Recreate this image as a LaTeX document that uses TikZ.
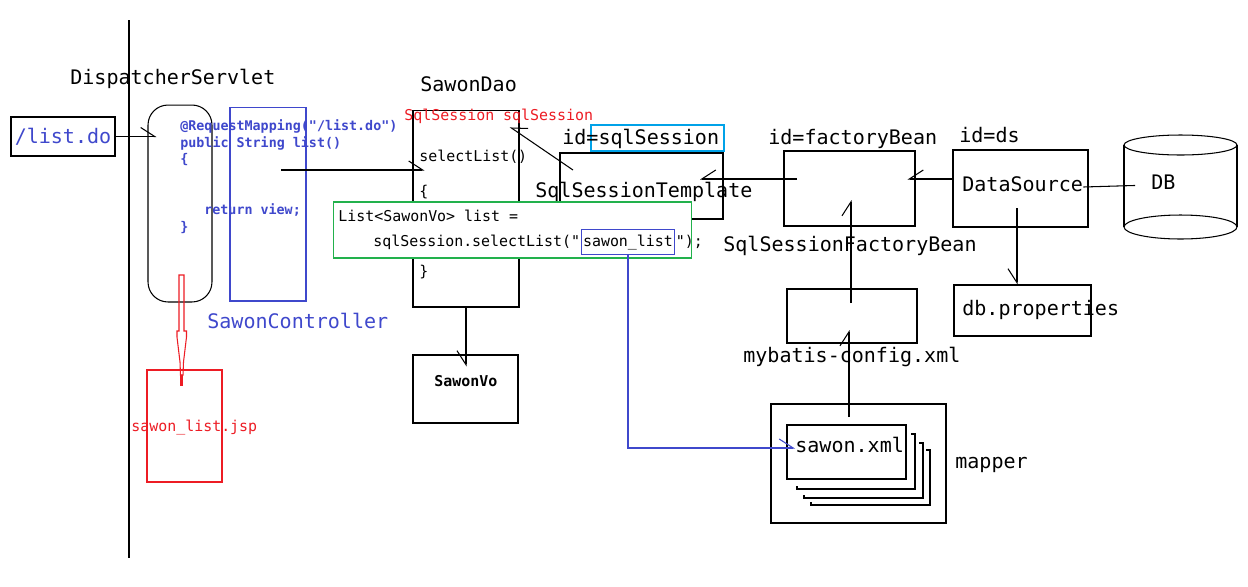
\documentclass[tikz,border=0pt]{standalone}
\usepackage{fontspec}
\usepackage{tikz}
\usetikzlibrary{arrows.meta, positioning}
\definecolor{pblue}{RGB}{63, 72, 204}
\definecolor{pred}{RGB}{237, 28, 36}
\definecolor{pgreen}{RGB}{34, 177, 76}
\definecolor{pcyan}{RGB}{0, 162, 232}
\newfontfamily\gulim{DejaVu Sans Mono}
\newcommand\bigtt{\gulim\fontsize{11.4pt}{13pt}\selectfont}
\newcommand\smtt{\gulim\fontsize{8.5pt}{10pt}\selectfont}
\newcommand\codett{\gulim\bfseries\fontsize{7.6pt}{9pt}\selectfont}
\tikzset{
  box/.style={draw, line width=0.6pt, inner sep=0pt},
  lbl/.style={anchor=west, inner sep=0pt, font=\bigtt, text height=0.75em, text depth=0.2em},
  sm/.style={lbl, font=\smtt},
  code/.style={lbl, font=\codett, text=pblue},
  hl/.style={line width=0.6pt, -{Straight Barb[left, length=0.28cm, width=0.36cm]}},
  hr/.style={line width=0.6pt, -{Straight Barb[right, length=0.28cm, width=0.36cm]}}
}

\begin{document}
\begin{tikzpicture}[x=0.02cm, y=-0.02cm]
  \fill[white] (0,0) rectangle (1248,586);
  \useasboundingbox (0,0) rectangle (1248,586);
  \draw[line width=0.6pt] (129,20) -- (129,558);

  % Front: request, servlet, controller, view
  \node[lbl] (dsvname) at (70,80) {DispatcherServlet};
  \node[box, minimum width=2.08cm, minimum height=0.78cm, font=\bigtt, text=pblue] (listdo) at (63,136.5) {/list.do};
  \node[box, rounded corners=0.4cm, minimum width=1.28cm, minimum height=3.94cm] (servlet) at (180,203.5) {};
  \node[box, draw=pblue, minimum width=1.52cm, minimum height=3.88cm] (ctrl) at (268,204) {};
  \node[code] (cl1) at (180,126) {@RequestMapping("/list.do")};
  \node[code] (cl2) at (180,143) {public String list()};
  \node[code] (cl3) at (180,159) {\{};
  \node[code] (cl4) at (204,210) {return view;};
  \node[code] (cl5) at (180,227) {\}};
  \node[lbl, text=pblue] (ctrlname) at (207,324) {SawonController};
  \node[box, draw=pred, minimum width=1.5cm, minimum height=2.24cm] (jsp) at (184.5,426) {};
  \node[sm, text=pred] (jspname) at (131,427) {sawon\_list.jsp};

  % Dao and Vo
  \node[lbl] (daoname) at (420,87) {SawonDao};
  \node[box, minimum width=2.12cm, minimum height=3.94cm] (dao) at (466,208.5) {};
  \node[sm, text=pred] (sessfield) at (404,116) {SqlSession sqlSession};
  \node[sm] (dl1) at (419,157) {selectList()};
  \node[sm] (dl2) at (419,192) {\{};
  \node[sm] (dl3) at (419,272) {\}};
  \node[box, minimum width=2.1cm, minimum height=1.36cm] (vo) at (465.5,389) {};
  \node[sm, font=\smtt\bfseries] (voname) at (434,382) {SawonVo};

  % SqlSessionTemplate
  \node[box, minimum width=3.26cm, minimum height=1.32cm] (tmpl) at (641.5,186) {};
  \node[box, draw=pcyan, minimum width=2.66cm, minimum height=0.52cm] (sessid) at (657.5,138) {};
  \node[lbl] (tmplid) at (562,140) {id=sqlSession};
  \node[lbl] (tmplname) at (535,193) {SqlSessionTemplate};

  % query in the dao
  \node[box, draw=pgreen, fill=white, minimum width=7.18cm, minimum height=1.12cm] (query) at (512.5,230) {};
  \node[sm] (ql1) at (338,217) {List<SawonVo> list =};
  \node[sm] (ql2) at (373,242) {sqlSession.selectList("};
  \node[sm, draw=pblue, line width=0.6pt, inner xsep=0.04cm, minimum height=0.5cm, right=0pt of ql2] (slist) {sawon\_list};
  \node[sm, right=0pt of slist] (ql3) {");};

  % factory bean and data source
  \node[lbl] (fbid) at (768,140) {id=factoryBean};
  \node[box, minimum width=2.62cm, minimum height=1.5cm] (factory) at (849.5,188.5) {};
  \node[lbl] (fbname) at (723,247) {SqlSessionFactoryBean};
  \node[lbl] (dsid) at (959,138) {id=ds};
  \node[box, minimum width=2.7cm, minimum height=1.54cm] (ds) at (1020.5,188.5) {};
  \node[lbl] (dsname) at (962,187) {DataSource};
  \node[box, minimum width=2.74cm, minimum height=1.02cm] (dbprop) at (1022.5,310.5) {};
  \node[lbl] (dbpropname) at (962,311) {db.properties};

  % DB
  \draw[line width=0.6pt] (1124,145) -- (1124,227) (1237,145) -- (1237,227);
  \draw[line width=0.6pt] (1180.5,145) ellipse [x radius=1.13cm, y radius=0.2cm];
  \draw[line width=0.6pt] (1180.5,227) ellipse [x radius=1.13cm, y radius=0.24cm];
  \node[lbl] (dbname) at (1151,185) {DB};

  % mybatis config and mapper
  \node[box, minimum width=2.6cm, minimum height=1.08cm] (mybatis) at (852,316) {};
  \node[lbl] (mbname) at (743,358) {mybatis-config.xml};
  \node[box, minimum width=3.5cm, minimum height=2.38cm] (mapper) at (858.5,463.5) {};
  \node[lbl] (mappername) at (955,464) {mapper};
  \foreach \r/\t/\b/\l in {915/434/489/797, 923/443/498/804, 930/450/505/811}
    \draw[line width=0.6pt] (\r-4,\t) -- (\r,\t) -- (\r,\b) -- (\l,\b) -- (\l,\b-3);
  \node[box, minimum width=2.38cm, minimum height=1.08cm] (sxml) at (846.5,452) {};
  \node[lbl] (sxmlname) at (795,448) {sawon.xml};

  % connectors
  \coordinate (ctrlout) at (281,170);
  \coordinate (tmplin) at (573,170);
  \coordinate (sessin) at (510,127);
  \coordinate (fbleft) at (797,179);
  \coordinate (tmplright) at (700,179);
  \coordinate (dsout) at (1017,208);
  \coordinate (mbup) at (851,303);
  \coordinate (fbin) at (851,200);
  \coordinate (mapout) at (849,417);
  \coordinate (mbin) at (849,330);
  \coordinate (jspfrom) at (181.5,275);
  \draw[hl, shorten >=-0.18cm] (listdo) -- (listdo -| servlet.west);
  \draw[hl, shorten >=-0.24cm] (ctrlout) -- (ctrlout -| dao.west);
  \draw[hr, shorten >=-0.24cm] (dao.south) -- (dao.south |- vo.north);
  \draw[hr] (tmplin) -- (sessin);
  \draw[hr] (fbleft) -- (tmplright);
  \draw[hr, shorten >=-0.16cm] (ds.west |- fbleft) -- (fbleft -| factory.east);
  \draw[line width=0.6pt, shorten >=0.32cm] (dsname.east) -- (dbname.west);
  \draw[hr] (dsout) -- (dsout |- dbprop.north);
  \draw[hl] (mbup) -- (fbin);
  \draw[hl] (mapout) -- (mbin);
  \draw[hl, pblue] (slist.south) |- (sxmlname.west);
  \draw[pred, line width=0.6pt] (jspfrom) ++(-2.5,0) -- ++(5,0) -- ++(0,56) -- ++(2.5,0) -- ++(0,6)
    -- ++(-3,25) -- ++(-0.5,13) -- ++(-2.5,0) -- ++(-0.5,-13) -- ++(-3,-25) -- ++(0,-6) -- ++(2,0) -- cycle;
  \draw[pred, line width=1.2pt] (jspfrom) ++(0,100) -- ++(0,11);
\end{tikzpicture}
\end{document}
